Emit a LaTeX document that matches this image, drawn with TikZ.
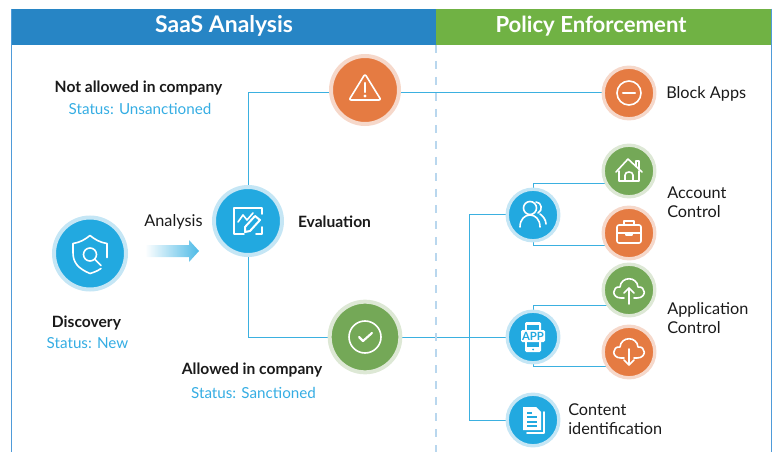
\documentclass[tikz,border=0pt]{standalone}
\usepackage{fontspec}
\setmainfont{Lato}
\usetikzlibrary{backgrounds}
\definecolor{cblue}{HTML}{22A9E0}
\definecolor{rblue}{HTML}{C5E6F5}
\definecolor{corange}{HTML}{E57B42}
\definecolor{rorange}{HTML}{F6D8CA}
\definecolor{cgreen}{HTML}{74A857}
\definecolor{rgreen}{HTML}{DDE8D5}
\definecolor{hblue}{HTML}{2785C5}
\definecolor{hgreen}{HTML}{70B244}
\definecolor{wire}{HTML}{3BB0E0}
\definecolor{frameblue}{HTML}{4F9BD9}
\definecolor{dashblue}{HTML}{B9D7EE}
\definecolor{txt}{HTML}{1A1A1A}
\definecolor{stat}{HTML}{35ADE3}
\tikzset{
  ball/.style={circle,inner sep=0pt,line width=3pt},
  big/.style={ball,minimum size=51pt},
  bigger/.style={ball,minimum size=53pt},
  biggest/.style={ball,minimum size=54pt},
  small/.style={ball,minimum size=38.7pt,line width=2.5pt},
  bl/.style={fill=cblue,draw=rblue},
  ora/.style={fill=corange,draw=rorange},
  gre/.style={fill=cgreen,draw=rgreen},
  wireline/.style={draw=wire,line width=0.75pt},
  icon/.style={draw=white,line width=1.2pt,line cap=round,line join=round},
  head/.style={text=white,font=\fontsize{17.2}{20}\selectfont\bfseries},
  bold/.style={text=txt,font=\fontsize{11.7}{14}\selectfont\bfseries},
  status/.style={text=stat,font=\fontsize{11.4}{14}\selectfont},
  plain/.style={text=txt,font=\fontsize{12.2}{14}\selectfont,align=left},
}
\begin{document}
\begin{tikzpicture}[x=0.75pt,y=-0.75pt]
\useasboundingbox (0,0) rectangle (777,452);
% headers
\fill[hblue] (11,9) rectangle (436,45);
\fill[hgreen] (436,9) rectangle (771,45);
\draw[frameblue,line width=1.1pt] (11.5,9) -- (11.5,452);
\draw[frameblue,line width=1.1pt] (771.5,9) -- (771.5,452);
\draw[dashblue,line width=1pt,dash pattern=on 6pt off 6pt] (436,45) -- (436,452);
\node[head] (h1) at (224,26) {SaaS Analysis};
\node[head,font=\fontsize{16.6}{20}\selectfont\bfseries] (h2) at (591,26.5) {Policy Enforcement};
% balls
\node[biggest,bl] (disc) at (90,253.5) {};
\node[big,bl] (eval) at (248,221) {};
\node[big,ora] (warn) at (365,90) {};
\node[bigger,gre] (check) at (365,337) {};
\node[small,ora] (block) at (629,93) {};
\node[small,gre] (house) at (629,171) {};
\node[small,ora] (case) at (629,233) {};
\node[small,gre] (up) at (629,290) {};
\node[small,ora] (down) at (629,352) {};
\node[small,bl] (users) at (533,215) {};
\node[small,bl] (app) at (533,337) {};
\node[small,bl] (doc) at (533,420) {};
\coordinate (bus) at (469.5,420);
% connectors
\begin{scope}[on background layer]
\draw[wireline] (eval.north) |- (block.west);
\draw[wireline] (eval.south) |- (app.west);
\draw[wireline] (users.west) -| (bus) -- (doc.west);
\draw[wireline] (users.north) |- (house.center |- 0,184);
\draw[wireline] (users.south) |- (case.center |- 0,245.5);
\draw[wireline] (app.north) |- (up.center |- 0,305.5);
\draw[wireline] (app.south) |- (down.center |- 0,366.5);
\end{scope}
% arrow
\path[left color=white,right color=cblue!80] (145,245) -- (189,245) -- (189,240) -- (199,251) -- (189,262) -- (189,257) -- (145,257) -- cycle;
% texts
\node[bold] (t1) at (138.5,88) {Not allowed in company};
\node[status] (s1) at (140,108.5) {Status: Unsanctioned};
\node[plain] (t2) at (173.5,222) {Analysis};
\node[bold] (t3) at (334.5,222) {Evaluation};
\node[bold] (t4) at (86.5,323) {Discovery};
\node[status] (s4) at (87.5,343.5) {Status: New};
\node[bold] (t5) at (252,370) {Allowed in company};
\node[status] (s5) at (253.5,392.5) {Status: Sanctioned};
\node[plain,anchor=west,inner sep=0pt] (t6) at (666,94) {Block Apps};
\node[plain,anchor=west,inner sep=0pt] (t7) at (667,202.5) {Account\\Control};
\node[plain,anchor=west,inner sep=0pt] (t8) at (667,318) {Application\\Control};
\node[plain,anchor=west,inner sep=0pt] (t9) at (568,419.5) {Content\\identification};
% icons
\begin{scope}[shift={(warn.center)},icon]
\draw[rounded corners=1.5pt] (0,-16) -- (16,10) -- (-16,10) -- cycle;
\draw[line width=1.6pt] (0,-7) -- (0,2);
\fill[white,draw=none] (0,6) circle (1.6);
\end{scope}
\begin{scope}[shift={(disc.center)},icon]
\draw (11,15) .. controls (7,18) and (3,19) .. (0,20) .. controls (-12,15) and (-17,9) .. (-17,-1) -- (-17,-10) .. controls (-10,-11) and (-5,-14) .. (0,-18) .. controls (5,-14) and (10,-11) .. (17,-10) -- (17,4);
\draw (0,1) circle (6.5);
\draw (5,6) -- (11,12);
\end{scope}
\begin{scope}[shift={(eval.center)},icon]
\draw (-4,13) -- (-14,13) -- (-14,-13) -- (14,-13) -- (14,-7);
\draw (14,6) -- (14,13) -- (8,13);
\draw (-10,1) -- (-5,-6) -- (-1,-1) -- (5,-8);
\draw[line width=1.5pt] (-3,11) -- (-3,6) -- (7,-5) -- (12,-1) -- (2,10) -- cycle;
\end{scope}
\begin{scope}[shift={(check.center)},icon]
\draw (0,0) circle (16);
\draw[line width=1.6pt] (-6,0) -- (-2,4) -- (7,-4);
\end{scope}
\begin{scope}[shift={(block.center)},icon]
\draw (0,0) circle (12);
\draw[line width=1.6pt] (-6,0) -- (6,0);
\end{scope}
\begin{scope}[shift={(house.center)},icon]
\draw (-13,1) -- (-1,-12) -- (13,1);
\draw (-10,0) -- (-10,10) -- (10,10) -- (10,0);
\draw (-4,10) -- (-4,4) .. controls (-4,0) and (4,0) .. (4,4) -- (4,10);
\draw (7,-5) -- (7,-10) -- (10,-10) -- (10,-2);
\end{scope}
\begin{scope}[shift={(case.center)},icon]
\draw[rounded corners=1.5pt] (-12,-8) rectangle (12,10);
\draw (-12,0) -- (-3,0) (3,0) -- (12,0);
\draw (-3,0) rectangle (3,2);
\draw (-5,-8) -- (-5,-12) -- (5,-12) -- (5,-8);
\end{scope}
\begin{scope}[shift={(up.center)},icon]
\draw (-5,8) -- (-8,8) .. controls (-18,8) and (-17,-4) .. (-9,-3) .. controls (-8,-14) and (8,-14) .. (9,-3) .. controls (17,-4) and (18,8) .. (8,8) -- (5,8);
\draw (0,14) -- (0,-2) (-5,3) -- (0,-2) -- (5,3);
\end{scope}
\begin{scope}[shift={(down.center)},icon]
\draw (-5,6) -- (-8,6) .. controls (-18,6) and (-17,-6) .. (-9,-5) .. controls (-8,-16) and (8,-16) .. (9,-5) .. controls (17,-6) and (18,6) .. (8,6) -- (5,6);
\draw (0,-3) -- (0,13) (-5,8) -- (0,13) -- (5,8);
\end{scope}
\begin{scope}[shift={(users.center)},icon]
\draw (-3,-7) circle (6.5);
\draw (-13,12) .. controls (-13,4) and (-8,0) .. (-3,0) .. controls (2,0) and (7,4) .. (7,12);
\draw (3,-13) .. controls (9,-13) and (10,-4) .. (5,-2);
\draw (7,-1) .. controls (10,1) and (13,5) .. (13,9);
\end{scope}
\begin{scope}[shift={(app.center)}]
\fill[white,rounded corners=1pt] (-8,-15) rectangle (8,15);
\fill[cblue] (-6,-12) rectangle (6,10);
\fill[cblue] (0,12.5) circle (1);
\fill[white,rounded corners=1pt] (-12,-7) rectangle (12,5);
\node[inner sep=0pt,text=cblue,font=\fontsize{8.5}{9}\selectfont\bfseries] (applbl) at (0,-1) {APP};
\end{scope}
\begin{scope}[shift={(doc.center)}]
\draw[icon] (11,-8) -- (11,13) -- (-6,13);
\fill[white] (-10,-13) -- (3,-13) -- (8,-8) -- (8,10) -- (-10,10) -- cycle;
\draw[cblue,line width=1.1pt] (-6,-7) -- (-1,-7) (-6,-3) -- (4,-3) (-6,2) -- (4,2) (-6,6) -- (4,6);
\end{scope}
\end{tikzpicture}
\end{document}
